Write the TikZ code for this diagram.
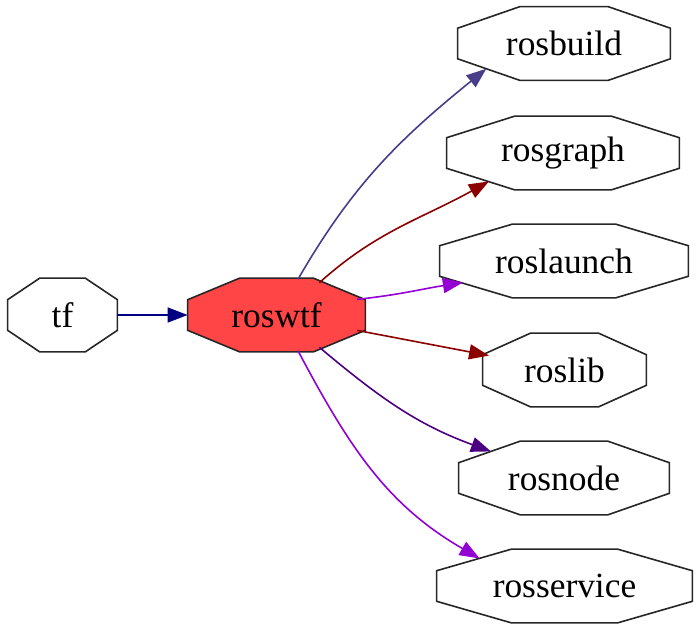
\documentclass[tikz,border=0pt]{standalone}
\usepackage{fontspec}
\setmainfont{Liberation Serif}
\usepackage{tikz}
\usetikzlibrary{arrows.meta,shapes.geometric,calc,backgrounds}

\definecolor{navyblue}{HTML}{000080}
\definecolor{slateblue}{HTML}{483D8B}
\definecolor{darkred}{HTML}{8B0000}
\definecolor{darkviolet}{HTML}{9400D3}
\definecolor{indigo}{HTML}{4B0082}
\definecolor{wtfred}{HTML}{FF4545}

\begin{document}
\begin{tikzpicture}[
    x=0.5pt, y=0.5pt,
    pkg/.style={ellipse, inner sep=0pt, minimum height=36.5pt, font=\fontsize{17.7}{20}\selectfont},
    octo/.style={draw=black!85, line width=0.8pt},
    arr/.style={-{Triangle[length=10pt, width=7.5pt]}, line width=0.8pt}
]
\useasboundingbox (0,0) rectangle (700,-632);

\node[pkg, minimum width=54.5pt] (tf) at (62.5,-315) {tf};
\node[pkg, minimum width=88.5pt] (roswtf) at (276.5,-315) {roswtf};
\node[pkg, minimum width=106pt] (rosbuild) at (564,-43.5) {rosbuild};
\node[pkg, minimum width=116pt] (rosgraph) at (563,-153) {rosgraph};
\node[pkg, minimum width=124pt] (roslaunch) at (564,-261) {roslaunch};
\node[pkg, minimum width=81.5pt] (roslib) at (564.5,-370) {roslib};
\node[pkg, minimum width=105pt] (rosnode) at (564,-478) {rosnode};
\node[pkg, minimum width=127.5pt] (rosservice) at (564.5,-586) {rosservice};

% octagon outlines behind the labels
\begin{scope}[on background layer]
\foreach \nd/\col in {tf/white, roswtf/wtfred, rosbuild/white, rosgraph/white,
                      roslaunch/white, roslib/white, rosnode/white, rosservice/white}
  \draw[octo, fill=\col] let \p1=(\nd.center), \p2=($(\nd.east)-(\nd.center)$),
        \p3=($(\nd.north)-(\nd.center)$) in
    (\x1+\x2, \y1+0.4142*\y3) -- (\x1+0.4142*\x2, \y1+\y3) --
    (\x1-0.4142*\x2, \y1+\y3) -- (\x1-\x2, \y1+0.4142*\y3) --
    (\x1-\x2, \y1-0.4142*\y3) -- (\x1-0.4142*\x2, \y1-\y3) --
    (\x1+0.4142*\x2, \y1-\y3) -- (\x1+\x2, \y1-0.4142*\y3) -- cycle;
\end{scope}

\draw[arr, navyblue] (tf) -- (roswtf);
\draw[arr, slateblue] (roswtf.59) to[out=60, in=219] (rosbuild.198);
\draw[arr, darkred] (roswtf.37) to[out=42, in=209] (rosgraph.201);
\draw[arr, darkviolet] (roswtf.11) to[out=6, in=189] (roslaunch.192);
\draw[arr, darkred] (roswtf) -- (roslib);
\draw[arr, indigo] (roswtf.-37) to[out=-40, in=160] (rosnode.160);
\draw[arr, darkviolet] (roswtf.-59) to[out=-62, in=150] (rosservice.162);
\end{tikzpicture}
\end{document}
